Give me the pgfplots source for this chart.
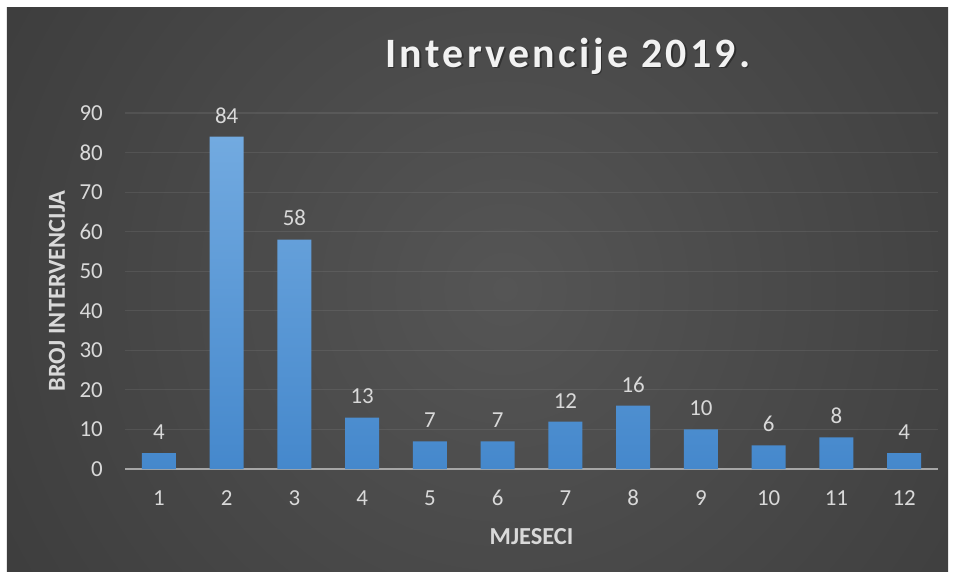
\documentclass[border=0pt]{standalone}
\usepackage{pgfplots}
\pgfplotsset{compat=1.18}
\usepackage{fontspec}
\setmainfont{Carlito}
\newfontfamily\titlefont[LetterSpace=8]{Carlito}
\definecolor{bgin}{HTML}{555555}
\definecolor{bgout}{HTML}{262626}
\definecolor{txt}{HTML}{D9D9D9}
\definecolor{axisc}{HTML}{A6A6A6}
\definecolor{bartop}{HTML}{72AAE0}
\definecolor{barbot}{HTML}{4588CC}
\begin{document}
\begin{tikzpicture}
\useasboundingbox (-125bp,-110bp) rectangle (831bp,469bp);
\fill[white] (-125bp,-110bp) rectangle (831bp,469bp);
\begin{scope}
\clip (-118bp,-102bp) rectangle (823bp,461bp);
\shade[inner color=bgin, outer color=bgout] (380bp,180bp) circle (1150bp);
\end{scope}
\node[text=black, opacity=0.35, font=\titlefont\bfseries\fontsize{42}{48}\selectfont] at (444.5bp,411.5bp) {Intervencije 2019.};
\node[text=white!95!black, font=\titlefont\bfseries\fontsize{42}{48}\selectfont] at (443bp,413bp) {Intervencije 2019.};
\begin{axis}[
  at={(0,0)}, anchor=south west,
  scale only axis, width=813bp, height=356bp,
  xmin=0.5, xmax=12.5, ymin=0, ymax=90,
  xtick={1,...,12}, ytick={0,10,...,90},
  major tick length=0pt,
  axis x line*=bottom, axis y line*=left,
  x axis line style={axisc, line width=2bp, -},
  y axis line style={draw=none},
  ymajorgrids, major grid style={white, opacity=0.08, line width=1.2bp},
  tick label style={font=\fontsize{23}{27}\selectfont, text=txt},
  /pgf/number format/assume math mode=true,
  xticklabel style={anchor=center, inner sep=0pt, yshift=-29bp},
  yticklabel style={anchor=east, inner sep=0pt, xshift=-22bp},
  ylabel={BROJ INTERVENCIJA}, xlabel={MJESECI},
  every axis y label/.style={at={(axis description cs:-0.0836,0.5)}, rotate=90, anchor=center, font=\bfseries\fontsize{24.5}{28}\selectfont, text=txt},
  every axis x label/.style={at={(axis description cs:0.5,-0.191)}, anchor=center, font=\bfseries\fontsize{24.5}{28}\selectfont, text=txt},
  nodes near coords,
  every node near coord/.append style={font=\fontsize{23}{27}\selectfont, text=txt, yshift=10bp},
]
\addplot[ybar, bar width=34bp, draw=none, top color=bartop, bottom color=barbot]
coordinates {(1,4) (2,84) (3,58) (4,13) (5,7) (6,7) (7,12) (8,16) (9,10) (10,6) (11,8) (12,4)};
\end{axis}
\end{tikzpicture}
\end{document}
